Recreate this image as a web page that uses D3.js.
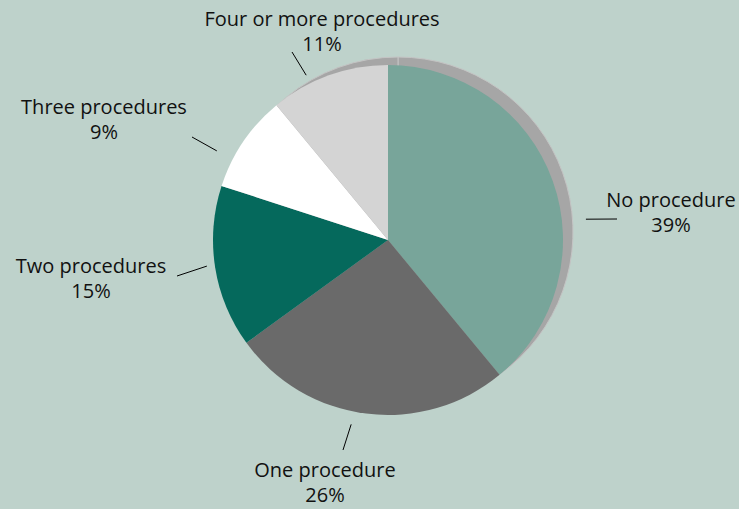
<!DOCTYPE html>
<html><head><meta charset="utf-8">
<script src="https://cdn.jsdelivr.net/npm/d3@7"></script>
<style>body{margin:0;background:#bed2cb;}svg{display:block;}</style>
</head><body>
<script>
const categories = ["No procedure","One procedure","Two procedures","Three procedures","Four or more procedures"];
const values = [39, 26, 15, 9, 11];
const colors = ["#78a59a","#6a6a6a","#05695c","#ffffff","#d4d4d4"];
// label layout: text centre x / first baseline (relative to pie centre) and leader segment
const labelLayout = [
  {tx: 283, ty: -33, a: 84, r: 199, ex: 229, ey: -21},
  {tx: -63, ty: 237, a: 191.3, r: 188, ex: -45, ey: 210},
  {tx: -297, ty: 33, a: 261.8, r: 183, ex: -211, ey: 36},
  {tx: -284, ty: -126, a: 297.5, r: 193, ex: -196, ey: -103},
  {tx: -66, ty: -214, a: 333.6, r: 184, ex: -96, ey: -188}
];
const W = 739, H = 509, cx = 388, cy = 240, R = 175;
const svg = d3.select("body").append("svg").attr("width", W).attr("height", H);
svg.append("rect").attr("width", W).attr("height", H).attr("fill", "#bed2cb");
const pie = d3.pie().sort(null).value(d => d)(values);
const arc = d3.arc().innerRadius(0).outerRadius(R);
// shadow
svg.append("g").attr("transform", `translate(${cx+10},${cy-8})`)
  .selectAll("path").data(pie).join("path")
  .attr("d", arc).attr("fill", "#a6a6a6").attr("stroke", "#c4c4c4").attr("stroke-width", 1);
const g = svg.append("g").attr("transform", `translate(${cx},${cy})`);
g.selectAll("path").data(pie).join("path")
  .attr("d", arc).attr("fill", (d, i) => colors[i]);
const lg = svg.append("g").attr("transform", `translate(${cx},${cy})`);
pie.forEach((d, i) => {
  const L = labelLayout[i];
  const ang = L.a * Math.PI / 180;
  const x1 = L.r * Math.sin(ang), y1 = -L.r * Math.cos(ang);
  lg.append("line").attr("x1", x1).attr("y1", y1).attr("x2", L.ex).attr("y2", L.ey)
    .attr("stroke", "#000").attr("stroke-width", 1);
  const t = lg.append("text").attr("text-anchor", "middle")
    .attr("font-family", "'Open Sans', sans-serif").attr("font-size", 20).attr("fill", "#111");
  t.append("tspan").attr("x", L.tx).attr("y", L.ty).text(categories[i]);
  t.append("tspan").attr("x", L.tx).attr("y", L.ty + 25).text(values[i] + "%");
});
</script>
</body></html>
